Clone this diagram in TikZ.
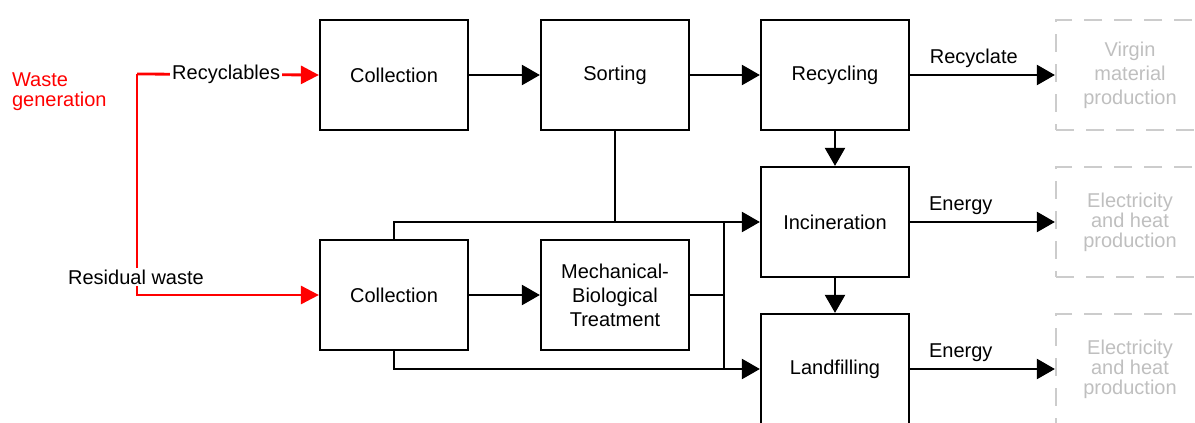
\documentclass[tikz,border=0pt]{standalone}
\usepackage{fontspec}
\setmainfont{Liberation Sans}
\usetikzlibrary{arrows.meta}

\begin{document}
\begin{tikzpicture}[x=0.5pt,y=-0.5pt,
  box/.style={draw,line width=1.1pt,minimum width=74pt,minimum height=55pt,align=center},
  ghost/.style={draw=gray!40,text=gray!50,dash pattern=on 9pt off 6pt,line width=1.1pt,minimum width=74pt,minimum height=55pt,align=center},
  flow/.style={line width=1.1pt,-{Triangle[length=9pt,width=10pt]}},
  link/.style={line width=1.1pt},
  redflow/.style={red,line width=1.4pt,-{Triangle[length=9pt,width=9pt]}}]
  \useasboundingbox (0,0) rectangle (1195,423);
  % Process boxes
  \node[box] (coll1) at (394,75) {Collection};
  \node[box] (sort) at (615,75) {Sorting};
  \node[box] (recyc) at (835,75) {Recycling};
  \node[box] (incin) at (835,222) {Incineration};
  \node[box] (landf) at (835,369) {Landfilling};
  \node[box] (coll2) at (394,295) {Collection};
  \node[box] (mbt) at (615,295) {Mechanical-\\Biological\\Treatment};
  % Substituted production
  \node[ghost] (virgin) at (1130,75) {Virgin\\material\\production};
  \node[ghost] (elec1) at (1130,222) {Electricity\\[-2pt]and heat\\[-2pt]production};
  \node[ghost] (elec2) at (1130,369) {Electricity\\[-2pt]and heat\\[-2pt]production};
  % Waste generation
  \node[red,anchor=west,align=left] (gen) at (5,92) {Waste\\[-2pt]generation};
  \coordinate (split) at (137,74);
  \draw[redflow] (split) -- node[text=black,fill=white,inner sep=1pt,pos=0.49] (recl) {Recyclables} (coll1.west);
  \draw[redflow] (split) |- (coll2.west);
  \node[fill=white,inner sep=1pt] (resid) at (136,277) {Residual waste};
  % Recyclables route
  \draw[flow] (coll1) -- (sort);
  \draw[flow] (sort) -- (recyc);
  \draw[flow] (recyc) -- node[above,pos=0.44] (rlbl) {Recyclate} (virgin);
  \foreach \a/\b in {recyc/incin, incin/landf} {
    \draw[flow] (\a) -- (\b);
  }
  \draw[flow] (incin) -- node[above,pos=0.35] (e1lbl) {Energy} (elec1);
  \draw[flow] (landf) -- node[above,pos=0.35] (e2lbl) {Energy} (elec2);
  % Residual waste route
  \draw[flow] (coll2) -- (mbt);
  \draw[flow] (coll2.north) |- (incin.west);
  \draw[flow] (coll2.south) |- (landf.west);
  \draw[link] (sort.south) -- (sort.south |- incin.west);
  \coordinate (jx) at (724,295);
  \draw[link] (mbt.east) -- (jx);
  \draw[link] (jx |- incin.west) -- (jx |- landf.west);
\end{tikzpicture}
\end{document}
